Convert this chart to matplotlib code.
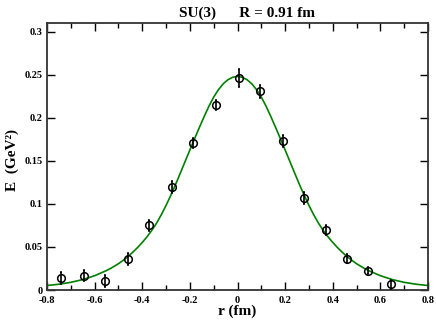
import numpy as np
import matplotlib
matplotlib.use("Agg")
import matplotlib.pyplot as plt
from matplotlib.ticker import MultipleLocator, FuncFormatter

# data points (r in fm, E in GeV^2) with errors
r_pts = [-0.74, -0.645, -0.555, -0.46, -0.37, -0.275, -0.185, -0.09,
         0.005, 0.095, 0.19, 0.28, 0.37, 0.46, 0.55, 0.645]
E_pts = [0.0143, 0.0167, 0.0105, 0.036, 0.075, 0.120, 0.1705, 0.2145,
         0.246, 0.2306, 0.173, 0.107, 0.0698, 0.0365, 0.0225, 0.0066]
E_err = [0.007, 0.0065, 0.0065, 0.007, 0.006, 0.007, 0.006, 0.006,
         0.0105, 0.0075, 0.0072, 0.0068, 0.006, 0.005, 0.0045, 0.005]

# fit curve
fit_r = [-0.8, -0.75, -0.7, -0.65, -0.6, -0.55, -0.525, -0.5, -0.48, -0.46,
         -0.44, -0.42, -0.4, -0.38, -0.36, -0.34, -0.32, -0.3, -0.28, -0.26,
         -0.24, -0.22, -0.2, -0.18, -0.16, -0.14, -0.12, -0.1, -0.08, -0.06,
         -0.04, -0.02, 0.0,
         0.02, 0.04, 0.06, 0.08, 0.1, 0.12, 0.14, 0.16, 0.18, 0.2,
         0.22, 0.24, 0.26, 0.28, 0.3, 0.32, 0.34, 0.36, 0.38, 0.4,
         0.42, 0.44, 0.46, 0.48, 0.5, 0.525, 0.55, 0.6, 0.65, 0.7, 0.75, 0.8]
fit_E = [0.0052, 0.0067, 0.0089, 0.0121, 0.0166, 0.0226, 0.0263, 0.0305, 0.0345, 0.0389,
         0.0438, 0.0492, 0.0552, 0.0618, 0.0692, 0.0776, 0.0874, 0.0982, 0.1100, 0.1226,
         0.1358, 0.1492, 0.1626, 0.1758, 0.1888, 0.2014, 0.2134, 0.2240, 0.2326, 0.2394,
         0.2442, 0.2470, 0.2480,
         0.2470, 0.2442, 0.2394, 0.2326, 0.2240, 0.2134, 0.2014, 0.1888, 0.1758, 0.1626,
         0.1492, 0.1358, 0.1226, 0.1100, 0.0982, 0.0874, 0.0776, 0.0692, 0.0618, 0.0552,
         0.0492, 0.0438, 0.0389, 0.0345, 0.0305, 0.0263, 0.0226, 0.0166, 0.0121, 0.0089, 0.0067, 0.0052]

plt.rcParams['font.family'] = ['Liberation Serif', 'DejaVu Serif']
plt.rcParams['font.weight'] = 'bold'

fig = plt.figure(figsize=(4.36, 3.2), dpi=100)
ax = fig.add_axes([47/436, 1 - 290/320, 381/436, 267/320])

ax.plot(fit_r, fit_E, color='#008000', lw=1.2, zorder=2)
ax.errorbar(r_pts, E_pts, yerr=E_err, fmt='o', mfc='none', mec='black',
            ms=5.5, mew=1.1, ecolor='black', elinewidth=1.2, capsize=1,
            zorder=3)

ax.set_xlim(-0.8, 0.8)
ax.set_ylim(0, 0.31)
ax.xaxis.set_major_locator(MultipleLocator(0.2))
ax.xaxis.set_minor_locator(MultipleLocator(0.1))
ax.yaxis.set_major_locator(MultipleLocator(0.05))
fmt = FuncFormatter(lambda v, p: '%g' % round(v, 3))
ax.xaxis.set_major_formatter(fmt)
ax.yaxis.set_major_formatter(fmt)
ax.tick_params(which='both', direction='in', top=True, right=True,
               labelsize=7.5, width=1.0)
ax.tick_params(which='major', length=6)
ax.tick_params(which='minor', length=3.5)
ax.tick_params(axis='x', pad=4)
ax.tick_params(axis='y', pad=3)
for lab in ax.get_xticklabels() + ax.get_yticklabels():
    lab.set_fontweight('bold')
for s in ax.spines.values():
    s.set_linewidth(1.3)
    s.set_color('#333333')

ax.set_xlabel('r (fm)', fontsize=11, fontweight='bold', labelpad=0)
fig.text(12/436, 1 - 160/320, 'E  (GeV²)', rotation=90, fontsize=11,
         fontweight='bold', ha='center', va='center')
fig.text(247/436, 1 - 13/320, 'SU(3)      R = 0.91 fm', fontsize=11,
         fontweight='bold', ha='center', va='center')

fig.savefig('out.png', dpi=100)
